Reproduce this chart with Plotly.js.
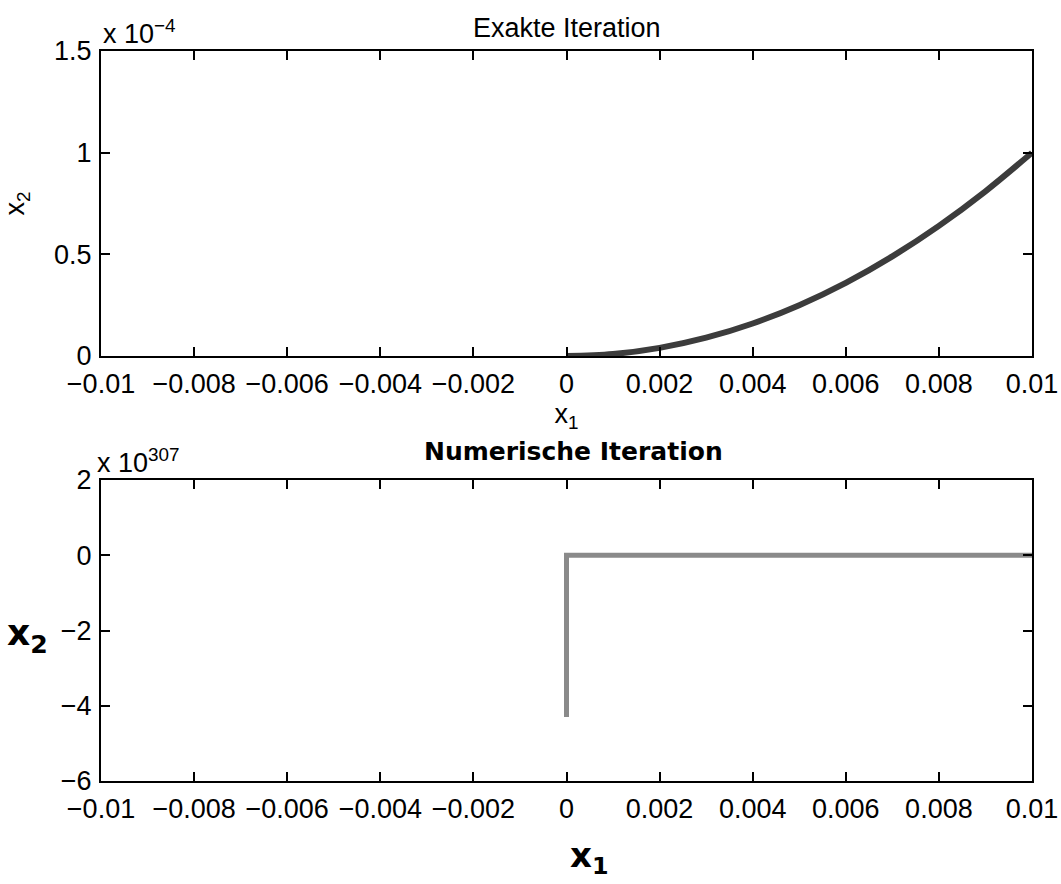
<!DOCTYPE html>
<html>
<head>
<meta charset="utf-8">
<script src="https://cdn.plot.ly/plotly-3.0.1.min.js"></script>
<style>html,body{margin:0;padding:0;background:#fff;}#chart{width:1061px;height:884px;}</style>
</head>
<body>
<div id="chart"></div>
<script>
// Top panel: exact iteration (x2 in units of 1e-4)
var exactX1 = [0, 0.001, 0.002, 0.003, 0.004, 0.005, 0.006, 0.007, 0.008, 0.009, 0.01];
var exactX2 = [0, 0.01, 0.04, 0.09, 0.16, 0.25, 0.36, 0.49, 0.64, 0.81, 1.0];
// Bottom panel: numerical iteration (x2 in units of 1e307)
var numX1 = [0, 0, 0.01];
var numX2 = [-4.3, 0, 0];
// Tick labels
var xTickVals = [-0.01, -0.008, -0.006, -0.004, -0.002, 0, 0.002, 0.004, 0.006, 0.008, 0.01];
var xTickText = ['\u22120.01', '\u22120.008', '\u22120.006', '\u22120.004', '\u22120.002', '0', '0.002', '0.004', '0.006', '0.008', '0.01'];
var topYTickVals = [0, 0.5, 1, 1.5];
var topYTickText = ['0', '0.5', '1', '1.5'];
var botYTickVals = [-6, -4, -2, 0, 2];
var botYTickText = ['\u22126', '\u22124', '\u22122', '0', '2'];

var F = 'Liberation Sans, Arial, sans-serif';
var HF = 'DejaVu Sans, sans-serif';
var FS = 27;

function xax(anchor) {
  return {
    range: [-0.01, 0.01], tickvals: xTickVals, ticktext: xTickText,
    ticks: 'inside', ticklen: 9, tickwidth: 2, tickcolor: '#000',
    showline: true, linecolor: '#000', linewidth: 2, mirror: 'ticks',
    showgrid: false, zeroline: false, anchor: anchor, ticklabelstandoff: 3,
    tickfont: {family: F, size: FS, color: '#000'}
  };
}
function yax(anchor, dom, rng, tv, tt) {
  return {
    domain: dom, range: rng, tickvals: tv, ticktext: tt,
    ticks: 'inside', ticklen: 9, tickwidth: 2, tickcolor: '#000',
    showline: true, linecolor: '#000', linewidth: 2, mirror: 'ticks',
    showgrid: false, zeroline: false, anchor: anchor, ticklabelstandoff: 2,
    tickfont: {family: F, size: FS, color: '#000'}
  };
}

var traces = [
  {x: exactX1, y: exactX2, xaxis: 'x', yaxis: 'y', mode: 'lines', line: {color: '#3c3c3c', width: 6, shape: 'spline'}, hoverinfo: 'none'},
  {x: numX1, y: numX2, xaxis: 'x2', yaxis: 'y2', mode: 'lines', line: {color: '#8a8a8a', width: 5}, hoverinfo: 'none'}
];

var xa1 = xax('y');
xa1.title = {text: 'x<sub>1</sub>', font: {family: F, size: FS, color: '#000'}, standoff: 0};
var ya1 = yax('x', [0.5822, 1], [0, 1.5], topYTickVals, topYTickText);
ya1.title = {text: 'x<sub>2</sub>', font: {family: F, size: FS, color: '#000'}, standoff: 24};

var layout = {
  width: 1061, height: 884,
  margin: {l: 101, r: 29, t: 51, b: 103},
  paper_bgcolor: '#fff', plot_bgcolor: '#fff',
  showlegend: false,
  xaxis: xa1,
  yaxis: ya1,
  xaxis2: xax('y2'),
  yaxis2: yax('x2', [0, 0.4123], [-6, 2], botYTickVals, botYTickText),
  annotations: [
    {text: 'Exakte Iteration', x: 0.5, y: 1, xref: 'paper', yref: 'paper', xanchor: 'center', yanchor: 'bottom', yshift: 6, showarrow: false, font: {family: F, size: 27, color: '#000'}},
    {text: 'x 10<sup>\u22124</sup>', x: 0, y: 1, xref: 'paper', yref: 'paper', xanchor: 'left', yanchor: 'bottom', xshift: 0, yshift: 0, showarrow: false, font: {family: F, size: FS, color: '#000'}},
    {text: 'x 10<sup>307</sup>', x: 0, y: 0.4123, xref: 'paper', yref: 'paper', xanchor: 'left', yanchor: 'bottom', xshift: -6, yshift: 0, showarrow: false, font: {family: F, size: FS, color: '#000'}},
    {text: '<b>Numerische Iteration</b>', x: 0.507, y: 0.4123, xref: 'paper', yref: 'paper', xanchor: 'center', yanchor: 'bottom', yshift: 12, showarrow: false, font: {family: HF, size: 25, color: '#000'}},
    {text: '<b>x<sub>2</sub></b>', x: 0, y: 0.2, xref: 'paper', yref: 'paper', xanchor: 'center', yanchor: 'middle', xshift: -74, showarrow: false, font: {family: HF, size: 36, color: '#000'}},
    {text: '<b>x<sub>1</sub></b>', x: 0.525, y: 0, xref: 'paper', yref: 'paper', xanchor: 'center', yanchor: 'top', yshift: -52, showarrow: false, font: {family: HF, size: 34, color: '#000'}}
  ]
};

Plotly.newPlot('chart', traces, layout, {staticPlot: true, displayModeBar: false});
</script>
</body>
</html>
